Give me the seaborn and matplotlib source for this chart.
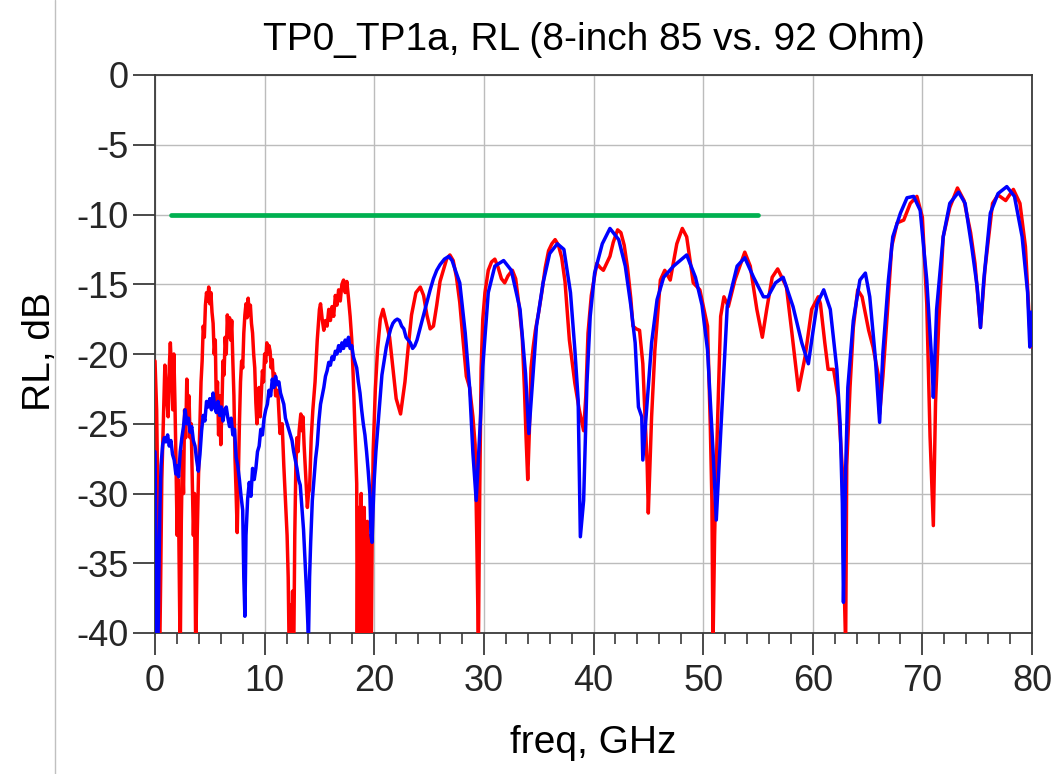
import matplotlib
matplotlib.use("Agg")
import matplotlib.pyplot as plt
from matplotlib.ticker import MultipleLocator
from matplotlib.lines import Line2D
import seaborn as sns
import pandas as pd

# ---------------- data ----------------
title = "TP0_TP1a, RL (8-inch 85 vs. 92 Ohm)"
x_label = "freq, GHz"
y_label = "RL, dB"
x_ticks = [0, 10, 20, 30, 40, 50, 60, 70, 80]
y_ticks = [-40, -35, -30, -25, -20, -15, -10, -5, 0]

spec_freq = [1.5, 55.0]
spec_db = [-10.0, -10.0]

red_freq = [
    0.0, 0.15, 0.3, 0.42, 0.52, 0.62, 0.76, 0.9, 1.05, 1.2, 1.3, 1.4, 1.52, 1.62, 1.72, 1.82, 1.92,
    2.02, 2.12, 2.22, 2.3, 2.4, 2.5, 2.6, 2.7, 2.8, 2.9, 3.0, 3.1, 3.2, 3.3, 3.4, 3.5, 3.6, 3.72,
    3.85, 3.96, 4.1, 4.2, 4.3, 4.4, 4.5, 4.6, 4.7, 4.8, 4.9, 5.0, 5.1, 5.2, 5.3, 5.4, 5.5, 5.6,
    5.7, 5.8, 5.9, 6.0, 6.1, 6.2, 6.3, 6.4, 6.5, 6.6, 6.7, 6.8, 6.9, 7.0, 7.1, 7.2, 7.3, 7.4,
    7.5, 7.6, 7.7, 7.8, 7.9, 8.0, 8.1, 8.2, 8.3, 8.4, 8.5, 8.6, 8.7, 8.8, 8.9, 9.0, 9.1, 9.2,
    9.3, 9.4, 9.5, 9.6, 9.7, 9.8, 9.9, 10.0, 10.1, 10.2, 10.3, 10.4, 10.5, 10.6, 10.7, 10.8,
    10.9, 11.0, 11.2, 11.4, 11.6, 11.75, 11.9, 12.05, 12.15, 12.25, 12.35, 12.45, 12.55, 12.65,
    12.75, 12.85, 12.95, 13.05, 13.15, 13.3, 13.4, 13.5, 13.6, 13.7, 13.8, 13.9, 14.0, 14.1,
    14.25, 14.4, 14.6, 14.8, 15.0, 15.1, 15.25, 15.4, 15.55, 15.7, 15.85, 16.0, 16.15, 16.3,
    16.45, 16.6, 16.75, 16.9, 17.05, 17.2, 17.35, 17.5, 17.65, 17.8, 17.95, 18.1, 18.2, 18.3,
    18.4, 18.45, 18.52, 18.6, 18.67, 18.74, 18.81, 18.88, 18.95, 19.02, 19.09, 19.16, 19.23,
    19.3, 19.37, 19.44, 19.51, 19.58, 19.65, 19.72, 19.8, 19.9, 20.1, 20.3, 20.55, 20.8, 21.1,
    21.4, 21.7, 22.0, 22.4, 22.8, 23.1, 23.4, 23.8, 24.2, 24.5, 24.8, 25.1, 25.4, 25.7, 26.0,
    26.3, 26.6, 26.9, 27.2, 27.5, 27.8, 28.1, 28.4, 28.7, 29.0, 29.2, 29.35, 29.5, 29.62, 29.75,
    29.9, 30.1, 30.4, 30.7, 31.0, 31.3, 31.6, 31.9, 32.2, 32.6, 32.9, 33.2, 33.5, 33.7, 33.85,
    34.0, 34.15, 34.3, 34.5, 34.7, 35.0, 35.3, 35.6, 35.9, 36.2, 36.5, 36.8, 37.1, 37.4, 37.8,
    38.3, 38.7, 39.1, 39.3, 39.5, 39.8, 40.3, 40.6, 40.9, 41.5, 41.8, 42.2, 42.5, 42.8, 43.1,
    43.4, 43.6, 43.9, 44.2, 44.5, 44.7, 44.9, 45.0, 45.15, 45.3, 45.6, 46.1, 46.5, 47.0, 47.6,
    48.1, 48.5, 49.1, 49.7, 50.4, 50.65, 50.8, 50.9, 51.05, 51.2, 51.6, 51.9, 52.3, 52.9, 53.8,
    54.3, 54.9, 55.4, 55.8, 56.3, 56.8, 57.6, 58.1, 58.7, 59.3, 59.9, 60.5, 60.7, 61.1, 61.4,
    61.9, 62.3, 62.7, 62.8, 63.0, 63.1, 63.4, 63.7, 64.1, 64.5, 65.1, 65.5, 66.0, 66.1, 66.4,
    66.8, 67.2, 67.7, 68.3, 68.9, 69.5, 70.0, 70.4, 70.7, 71.0, 71.2, 71.5, 71.9, 72.5, 73.2,
    73.8, 74.4, 74.8, 75.3, 75.7, 76.4, 76.9, 77.6, 78.3, 78.9, 79.4, 79.8, 80.0,
]
red_db = [
    -20.5, -24, -33, -42, -36, -29, -25, -20.8, -23, -24.5, -21, -19.2, -21.5, -24, -20, -23.5, -28,
    -33, -29, -36, -42, -32, -27, -30, -24, -26, -21.8, -24, -23, -26, -25, -29, -33, -30, -42,
    -33, -29, -25, -22, -20.5, -18, -18.8, -16.5, -15.6, -16.2, -15.2, -16.4, -15.6, -17, -17.8, -20, -19, -24,
    -22, -25.8, -23, -26.5, -24, -20.5, -21.5, -18.8, -20, -17.2, -18.8, -17.4, -19, -17.6, -20.5, -23, -27.5, -30,
    -32.8, -29, -25, -22, -20.5, -21, -18.5, -17.2, -16.4, -17.4, -16, -17.2, -16.5, -17.8, -18.5, -20, -21, -23.5,
    -25, -23, -22.4, -24.5, -22.8, -21.2, -22, -20, -20.6, -19.2, -20, -19.4, -19.8, -21, -20.4, -22,
    -21.4, -23, -22.6, -25.7, -25, -28, -30.5, -33, -36, -42, -38, -42, -37, -42,
    -33, -28, -26, -27, -25.5, -24.3, -25.5, -24.5, -26.5, -28, -29.5, -31, -30, -29.7,
    -26, -24, -22, -19, -16.8, -16.4, -17.5, -18.3, -17.6, -18, -16.8, -17.6, -16.6, -17.3,
    -15.8, -16.5, -15.4, -16.2, -15, -14.7, -15.6, -14.8, -16, -17.3, -19, -22, -24.5, -27,
    -29.3, -42, -31, -42, -32, -42, -30, -42, -33, -42, -31, -42, -34,
    -42, -32, -42, -35, -42, -33, -42, -34, -27, -22.5, -19.7, -17.5, -16.8, -17.8,
    -18.8, -21, -23.2, -24.3, -22, -19.5, -17.2, -15.6, -15.2, -15.8, -17.2, -18.2, -18.0, -16.5, -14.8,
    -14, -13.2, -12.9, -13.3, -14.5, -16.3, -19, -21.6, -22.4, -24.5, -26.5, -33, -41, -30, -21,
    -17.5, -15.6, -14.0, -13.4, -13.2, -13.8, -14.6, -14.9, -14.4, -14.0, -14.6, -16.5, -18.8, -22.5, -26,
    -29, -25.5, -21, -19.5, -18.3, -17, -15.5, -13.8, -12.6, -12.1, -11.8, -12.2, -13.1, -14.8, -19,
    -22.1, -24, -25.5, -23, -18.5, -15.8, -13.5, -13.8, -14.0, -13.0, -12.0, -11.1, -11.3, -12.2, -13.8,
    -16, -18.0, -18.2, -18.3, -20.7, -24.5, -28, -31.4, -28, -24.5, -19.7, -14.7, -14.0, -14.7, -12.1,
    -11.0, -11.6, -14.9, -15.4, -18.0, -25, -30.5, -41, -33, -28, -17.3, -15.9, -16.6, -14.7, -12.7,
    -13.7, -16.8, -18.8, -16.8, -14.5, -13.9, -15.2, -18.5, -22.6, -20.2, -16.8, -15.9, -16.4, -19.2, -21.1,
    -21.1, -23.1, -28.3, -34.3, -41, -28, -22.4, -18.1, -15.4, -15.9, -18.3, -19.5, -21.6, -24.3, -21.6,
    -17.1, -12.3, -10.6, -10.4, -9.2, -8.7, -10.2, -16.4, -25.9, -32.3, -23.5, -17.6, -11.6, -9.5, -8.1,
    -9.0, -11.3, -13.5, -18.1, -14, -9.2, -8.6, -9.0, -8.2, -9.2, -12.3, -18.3, -19.5,
]

blue_freq = [
    0.0, 0.08, 0.15, 0.25, 0.35, 0.45, 0.55, 0.7, 0.85, 1.0, 1.15, 1.3, 1.45, 1.6, 1.75, 1.9, 2.0,
    2.15, 2.3, 2.45, 2.6, 2.75, 2.9, 3.05, 3.2, 3.35, 3.5, 3.65, 3.8, 3.95, 4.1, 4.25, 4.4, 4.55,
    4.7, 4.85, 5.0, 5.15, 5.3, 5.45, 5.6, 5.75, 5.9, 6.05, 6.2, 6.35, 6.5, 6.65, 6.8, 6.95, 7.1,
    7.25, 7.4, 7.55, 7.7, 7.85, 8.0, 8.1, 8.2, 8.3, 8.45, 8.6, 8.75, 8.9, 9.05, 9.2, 9.35, 9.5,
    9.65, 9.8, 9.95, 10.1, 10.25, 10.4, 10.55, 10.7, 10.85, 11.0, 11.15, 11.3, 11.45, 11.6, 11.75,
    11.9, 12.05, 12.2, 12.35, 12.5, 12.65, 12.8, 12.95, 13.1, 13.25, 13.4, 13.55, 13.7, 13.85,
    14.0, 14.1, 14.2, 14.35, 14.5, 14.65, 14.8, 14.95, 15.1, 15.25, 15.4, 15.55, 15.7, 15.85,
    16.0, 16.15, 16.3, 16.45, 16.6, 16.75, 16.9, 17.05, 17.2, 17.35, 17.5, 17.65, 17.8, 17.95,
    18.1, 18.25, 18.4, 18.55, 18.7, 18.85, 19.0, 19.15, 19.3, 19.45, 19.6, 19.7, 19.8, 19.9,
    20.0, 20.15, 20.3, 20.5, 20.7, 20.9, 21.1, 21.3, 21.5, 21.7, 21.9, 22.1, 22.3, 22.5, 22.7,
    22.9, 23.1, 23.3, 23.5, 23.7, 23.9, 24.1, 24.3, 24.5, 24.7, 24.9, 25.1, 25.4, 25.7, 26.0,
    26.4, 26.8, 27.1, 27.4, 27.8, 28.3, 28.7, 29.0, 29.3, 29.7, 29.9, 30.4, 31.0, 31.8, 32.5,
    33.3, 33.8, 34.1, 34.4, 34.8, 35.4, 36.0, 36.7, 37.3, 37.9, 38.3, 38.6, 38.8, 39.1, 39.4,
    39.7, 40.1, 40.8, 41.5, 42.3, 42.9, 43.4, 43.8, 44.1, 44.4, 44.5, 44.7, 45.0, 45.3, 45.8,
    46.4, 47.3, 48.5, 49.3, 49.9, 50.4, 50.9, 51.2, 51.6, 52.2, 53.1, 53.8, 54.6, 55.5, 55.9,
    56.6, 57.3, 58.2, 59.0, 59.6, 60.0, 60.4, 61.0, 61.6, 62.2, 62.5, 62.7, 62.8, 63.0, 63.2,
    63.7, 64.3, 64.8, 65.2, 65.7, 66.1, 66.4, 66.9, 67.3, 68.0, 68.6, 69.2, 69.8, 70.4, 70.9,
    71.0, 71.3, 71.9, 72.5, 73.3, 73.9, 74.5, 75.0, 75.3, 75.6, 76.2, 76.9, 77.7, 78.4, 79.1,
    79.6, 79.8, 79.9, 80.0,
]
blue_db = [
    -27, -33, -40.5, -42, -36, -31, -28, -26.5, -26, -26.3, -25.8, -26.6, -26.2, -27.2, -27.6, -28.6, -28,
    -28.8, -27, -26, -25.2, -24, -25, -24.6, -25.6, -25.2, -26.2, -26.6, -27.6, -28.4, -27.2, -25.5, -24.4, -24.8,
    -23.4, -23.8, -23.2, -24, -22.8, -23.8, -24.2, -23.4, -24.4, -23.8, -24.8, -24, -23.8, -24.6, -25.2, -24.6, -25.8,
    -25.4, -27.4, -28, -29, -30.2, -31.2, -36, -38.8, -33, -30.4, -29.2, -30.2, -28.2, -29, -28.2, -27, -26.6,
    -25.4, -25.8, -24.6, -24, -23.6, -22.6, -23, -21.8, -22.4, -21.6, -22.2, -22, -22.8, -23.2, -23.6,
    -24.6, -25, -25.4, -25.8, -26.2, -27, -27.6, -28.2, -29, -29.4, -31, -32.6, -35, -37.5,
    -40.5, -36, -33.5, -30.5, -29, -27.5, -26.5, -24.8, -23.6, -23, -22.4, -21.6, -21.2, -20.6,
    -20.8, -20.2, -20.4, -19.8, -20, -19.4, -19.8, -19.2, -19.6, -19, -19.4, -18.8, -19.6, -19.4,
    -20.2, -20.6, -21, -22, -22.8, -24, -25, -25.8, -27, -28.4, -30, -33, -33.5, -31,
    -29, -27, -25.5, -23.5, -21.5, -20.5, -19.5, -18.8, -18.2, -17.8, -17.6, -17.5, -17.6, -18, -18.2,
    -18.8, -19, -19.2, -19.6, -19.4, -19, -18.4, -17.8, -17.2, -16.6, -16, -15.4, -14.6, -14, -13.6,
    -13.2, -13.0, -13.3, -14, -14.9, -18.5, -22.4, -27.1, -30.5, -24.5, -20.9, -15.6, -13.7, -13.3, -14,
    -16.8, -21.4, -25.7, -22.4, -18.0, -14.9, -12.8, -12.1, -12.5, -15.6, -19.7, -23.3, -33.1, -30.5, -22.1,
    -17.3, -14.2, -12.1, -11.0, -11.8, -13.7, -16.5, -19.2, -23.8, -24.5, -27.6, -25.5, -22.4, -19.2, -16.1,
    -14.5, -13.7, -12.9, -14.5, -16.5, -19.7, -26.9, -31.9, -25.7, -16.6, -13.7, -13.1, -14.5, -15.9, -15.9,
    -14.9, -14.5, -16.6, -19.2, -20.7, -18.5, -16.4, -15.4, -16.8, -21.1, -25, -30.7, -37.8, -28.3, -22.4,
    -17.6, -14.7, -14.2, -15.9, -20.2, -24.9, -19.9, -14.7, -11.6, -9.9, -8.8, -8.7, -9.7, -14.7, -21.1,
    -23.1, -16.8, -11.6, -9.2, -8.4, -9.2, -12.3, -15.2, -18.1, -14.7, -9.9, -8.5, -8.0, -8.7, -11.6,
    -15.6, -19.5, -17, -19,
]

# ---------------- figure ----------------
sns.set_theme(style="white")
plt.rcParams["font.family"] = ["Liberation Sans", "DejaVu Sans"]
plt.rcParams["axes.unicode_minus"] = False

W, H = 1056, 774
fig = plt.figure(figsize=(W / 100, H / 100), dpi=100)
fig.patch.set_facecolor("white")
ax = fig.add_axes([155 / W, 1 - 633 / H, 877 / W, 558 / H])

red_df = pd.DataFrame({"freq": red_freq, "RL": red_db})
blue_df = pd.DataFrame({"freq": blue_freq, "RL": blue_db})
spec_df = pd.DataFrame({"freq": spec_freq, "RL": spec_db})

sns.lineplot(data=red_df, x="freq", y="RL", ax=ax, color="#FF0000", lw=2.5,
             estimator=None, sort=False, zorder=3)
sns.lineplot(data=blue_df, x="freq", y="RL", ax=ax, color="#0000FF", lw=2.5,
             estimator=None, sort=False, zorder=4)
sns.lineplot(data=spec_df, x="freq", y="RL", ax=ax, color="#00B050", lw=3.4,
             estimator=None, sort=False, zorder=5)

ax.set_xlim(0, 80)
ax.set_ylim(-40, 0)
ax.set_xticks(x_ticks)
ax.set_yticks(y_ticks)
ax.set_xticklabels([str(t) for t in x_ticks])
ax.set_yticklabels([str(t) for t in y_ticks])
ax.xaxis.set_minor_locator(MultipleLocator(2))

ax.grid(True, which="major", color="#bcbcbc", lw=1.0, zorder=0)
ax.set_axisbelow(True)

for s in ax.spines.values():
    s.set_color("#3a3a3a")
    s.set_linewidth(1.3)
    s.set_visible(True)

ax.tick_params(axis="x", which="major", direction="out", length=16, width=1.3,
               color="#3a3a3a", labelsize=26, pad=6, bottom=True, top=False)
ax.tick_params(axis="x", which="minor", direction="out", length=8, width=1.2,
               color="#3a3a3a", bottom=True, top=False)
ax.tick_params(axis="y", which="major", direction="out", length=16, width=1.3,
               color="#3a3a3a", labelsize=26, pad=3, left=True, right=False)

ax.set_title(title, fontsize=28, pad=18, color="black")
ax.set_xlabel(x_label, fontsize=28, color="black")
ax.set_ylabel(y_label, fontsize=28, color="black")
ax.xaxis.set_label_coords(0.5, -0.165)
ax.yaxis.set_label_coords(-0.111, 0.505)

# thin frame line at the far left of the screenshot
fig.add_artist(Line2D([54.5 / W, 54.5 / W], [0, 1], color="#c0c0c0", lw=1.0,
                      transform=fig.transFigure))

fig.savefig("out.png", dpi=100, facecolor="white")
